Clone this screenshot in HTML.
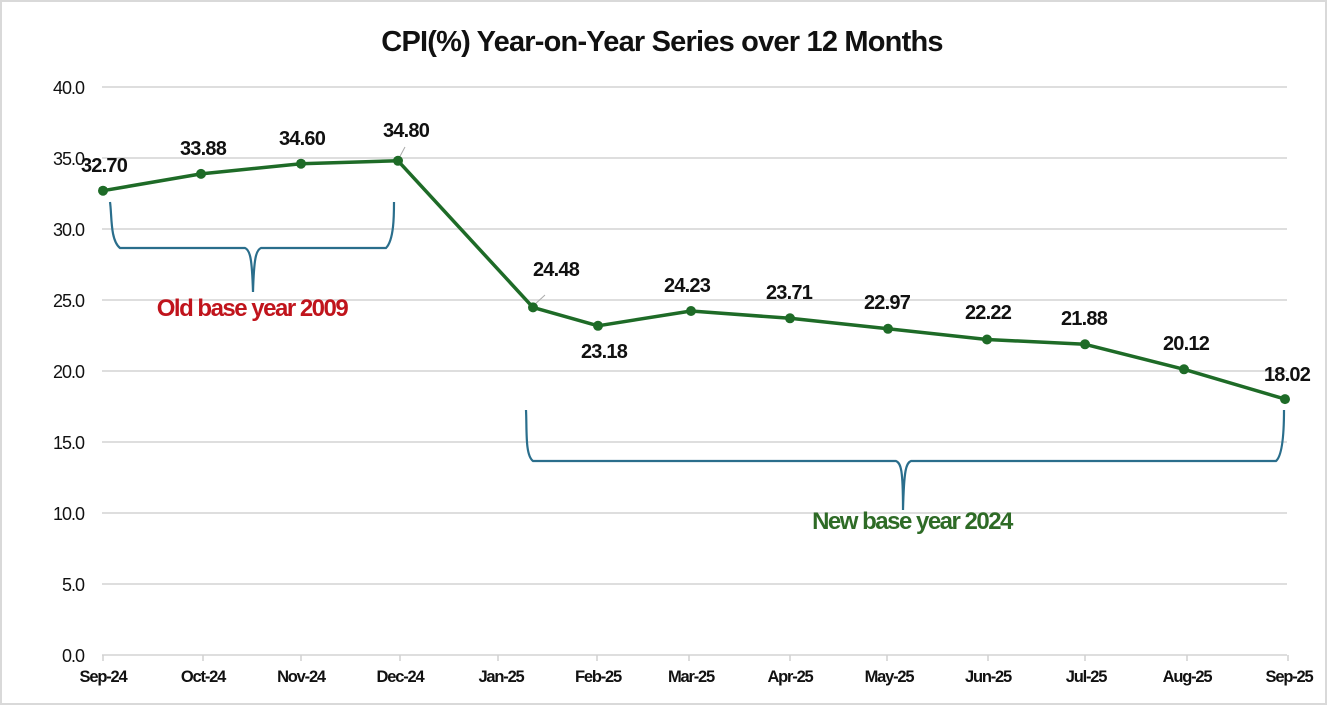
<!DOCTYPE html>
<html><head><style>
body{margin:0;background:#fff}
svg text{font-family:"Liberation Sans",Arial,sans-serif}
</style></head><body>
<svg width="1327" height="706" viewBox="0 0 1327 706" xmlns="http://www.w3.org/2000/svg">
<rect x="1" y="1" width="1325" height="703" fill="#fff" stroke="#d9d9d9" stroke-width="2"/>
<text x="662" y="51" text-anchor="middle" font-size="29" font-weight="bold" letter-spacing="-0.8" fill="#111">CPI(%) Year-on-Year Series over 12 Months</text>
<g stroke="#dedede" stroke-width="2">
<line x1="102" y1="87" x2="1287" y2="87"/>
<line x1="102" y1="158" x2="1287" y2="158"/>
<line x1="102" y1="229" x2="1287" y2="229"/>
<line x1="102" y1="300" x2="1287" y2="300"/>
<line x1="102" y1="371" x2="1287" y2="371"/>
<line x1="102" y1="442" x2="1287" y2="442"/>
<line x1="102" y1="513" x2="1287" y2="513"/>
<line x1="102" y1="584" x2="1287" y2="584"/>
<line x1="102" y1="655" x2="1287" y2="655"/>
</g>
<g stroke="#d0d0d0" stroke-width="1.5">
<line x1="103" y1="655" x2="103" y2="661"/><line x1="203" y1="655" x2="203" y2="661"/><line x1="301" y1="655" x2="301" y2="661"/><line x1="400" y1="655" x2="400" y2="661"/><line x1="498" y1="655" x2="498" y2="661"/><line x1="597" y1="655" x2="597" y2="661"/><line x1="689" y1="655" x2="689" y2="661"/><line x1="790" y1="655" x2="790" y2="661"/><line x1="887" y1="655" x2="887" y2="661"/><line x1="988" y1="655" x2="988" y2="661"/><line x1="1085" y1="655" x2="1085" y2="661"/><line x1="1187" y1="655" x2="1187" y2="661"/><line x1="1288" y1="655" x2="1288" y2="661"/>
</g>
<g font-size="18" fill="#111" text-anchor="end" letter-spacing="-1">
<text x="84" y="94">40.0</text><text x="84" y="165">35.0</text><text x="84" y="236">30.0</text><text x="84" y="307">25.0</text><text x="84" y="378">20.0</text><text x="84" y="449">15.0</text><text x="84" y="520">10.0</text><text x="84" y="591">5.0</text><text x="84" y="662">0.0</text>
</g>
<g font-size="16.5" font-weight="bold" fill="#111" text-anchor="middle" letter-spacing="-1.2">
<text x="103" y="682">Sep-24</text><text x="203" y="682">Oct-24</text><text x="301" y="682">Nov-24</text><text x="400" y="682">Dec-24</text><text x="501" y="682">Jan-25</text><text x="598" y="682">Feb-25</text><text x="691" y="682">Mar-25</text><text x="790" y="682">Apr-25</text><text x="889" y="682">May-25</text><text x="988" y="682">Jun-25</text><text x="1086" y="682">Jul-25</text><text x="1187" y="682">Aug-25</text><text x="1289" y="682">Sep-25</text>
</g>
<g fill="none" stroke="#2a6e8c" stroke-width="2.2">
<path d="M110 202 C112 215 110 240 120 248 L245 248 C250 250 252 258 253 292 C254 258 256 250 261 248 L386 248 C394 240 394 215 394 202"/>
<path d="M526 410 C527 430 525 455 533 461 L896 461 C901 463 903 470 903 510 C904 470 906 463 911 461 L1276 461 C1283 455 1284 430 1284 410"/>
</g>
<line x1="398" y1="160" x2="405" y2="147" stroke="#aaa" stroke-width="1"/>
<line x1="533" y1="306" x2="545" y2="295" stroke="#aaa" stroke-width="1"/>
<polyline fill="none" stroke="#1e6b27" stroke-width="3.5" stroke-linejoin="round" points="103,190.7 201,173.9 301,163.7 398,160.8 533,307.4 598,325.8 691,311 790,318.3 888,328.8 987,339.5 1085,344.3 1184,369.3 1285,399.1"/>
<g fill="#1e6b27">
<circle cx="103" cy="190.7" r="5"/><circle cx="201" cy="173.9" r="5"/><circle cx="301" cy="163.7" r="5"/><circle cx="398" cy="160.8" r="5"/><circle cx="533" cy="307.4" r="5"/><circle cx="598" cy="325.8" r="5"/><circle cx="691" cy="311" r="5"/><circle cx="790" cy="318.3" r="5"/><circle cx="888" cy="328.8" r="5"/><circle cx="987" cy="339.5" r="5"/><circle cx="1085" cy="344.3" r="5"/><circle cx="1184" cy="369.3" r="5"/><circle cx="1285" cy="399.1" r="5"/>
</g>
<g font-size="20" font-weight="bold" fill="#111" text-anchor="middle" letter-spacing="-0.8">
<text x="104" y="172">32.70</text><text x="203" y="155">33.88</text><text x="302" y="145">34.60</text><text x="406" y="137">34.80</text><text x="556" y="276">24.48</text><text x="604" y="358">23.18</text><text x="687" y="292">24.23</text><text x="789" y="299">23.71</text><text x="887" y="309">22.97</text><text x="988" y="319">22.22</text><text x="1084" y="325">21.88</text><text x="1186" y="350">20.12</text><text x="1287" y="381">18.02</text>
</g>
<text x="252" y="316" text-anchor="middle" font-size="24" font-weight="bold" fill="#c0141c" letter-spacing="-1.5">Old base year 2009</text>
<text x="912" y="529" text-anchor="middle" font-size="24" font-weight="bold" fill="#2e6b26" letter-spacing="-1.5">New base year 2024</text>
</svg>
</body></html>
